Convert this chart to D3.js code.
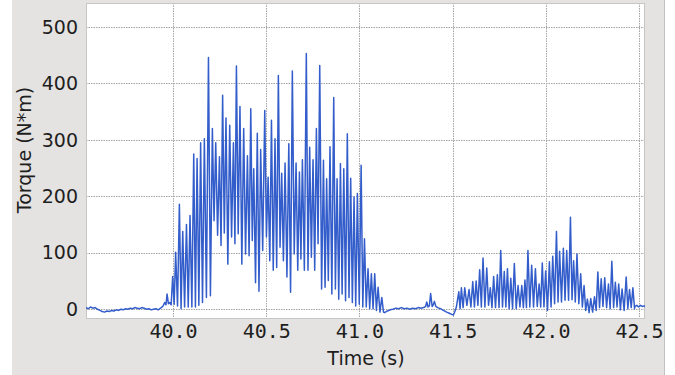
<!DOCTYPE html>
<html><head><meta charset="utf-8">
<script src="https://cdn.jsdelivr.net/npm/d3@7"></script>
<style>body{margin:0;background:#fff} svg{display:block}</style>
</head><body><svg id="c" width="675" height="375"></svg>
<script>
// ---- data ----
const xTicks = [40.0, 40.5, 41.0, 41.5, 42.0, 42.5];
const yTicks = [0, 100, 200, 300, 400, 500];

const preTimes  = [39.533,39.545,39.557,39.570,39.582,39.595,39.608,39.620,39.633,39.645,39.658,39.670,39.683,39.695,39.708,39.720,39.733,39.745,39.758,39.770,39.783,39.795,39.808,39.820,39.833,39.845,39.858,39.870,39.883,39.895,39.908,39.920,39.933,39.945,39.955,39.962,39.968,39.975,39.982,39.990];
const preValues = [3,1,4,2,3,0,-2,-4,-5,-3,-4,-2,-3,-1,-2,0,-1,1,0,2,1,3,2,1,3,2,0,1,-1,0,1,-1,2,5,12,8,27,10,12,8];

const burst1Times = [39.998,40.014,40.034,40.052,40.072,40.091,40.111,40.129,40.148,40.168,40.190,40.211,40.229,40.249,40.266,40.284,40.304,40.324,40.340,40.359,40.379,40.399,40.417,40.433,40.452,40.470,40.492,40.510,40.528,40.547,40.565,40.583,40.601,40.621,40.640,40.660,40.678,40.694,40.715,40.733,40.751,40.769,40.787,40.807,40.824,40.842,40.862,40.880,40.898,40.916,40.935,40.953,40.971,40.989,41.009,41.027,41.046,41.064,41.082,41.100,41.120];
const burst1Peaks = [58,101,186,138,150,166,275,267,295,302,446,320,295,270,379,339,326,295,431,359,320,272,355,249,312,283,352,234,335,302,414,241,259,293,422,259,243,265,453,287,265,320,432,264,231,288,375,231,258,249,311,232,199,205,255,125,72,63,63,39,21];
const burst1Troughs = [9,6,1,4,4,4,4,7,12,21,24,157,131,113,135,80,128,116,134,80,98,95,122,47,32,104,128,86,69,74,110,86,57,30,98,69,89,69,69,92,69,116,36,39,51,27,36,18,27,15,21,12,6,9,4,4,1,1,-2,-5,-5];

const gapTimes  = [41.135,41.150,41.165,41.180,41.195,41.210,41.225,41.240,41.255,41.270,41.285,41.300,41.315,41.330,41.345,41.355,41.361,41.368,41.375,41.382,41.390,41.396,41.402,41.410,41.420,41.435,41.450,41.468,41.482,41.495,41.504,41.512,41.520];
const gapValues = [-6,-3,-1,0,2,1,3,1,2,0,2,1,3,2,3,5,13,4,6,28,5,8,14,5,3,1,-2,-5,-7,-9,-10,-4,4];

const burst2Times = [41.533,41.547,41.565,41.588,41.608,41.626,41.645,41.663,41.683,41.702,41.720,41.740,41.758,41.777,41.794,41.812,41.831,41.851,41.871,41.888,41.904,41.924,41.944,41.964,41.981,41.999,42.019,42.037,42.057,42.074,42.094,42.112,42.132,42.149,42.167,42.187,42.205,42.223,42.241,42.261,42.279,42.297,42.316,42.336,42.354,42.373,42.391,42.409,42.431,42.449,42.467];
const burst2Peaks = [31,38,38,35,49,50,70,91,73,38,58,61,104,67,72,55,81,42,42,52,104,78,72,45,82,68,84,94,138,103,108,104,163,86,98,63,42,18,19,22,66,54,56,45,85,48,45,36,57,35,38];
const burst2Troughs = [1,3,7,4,4,7,4,4,7,3,3,3,4,4,1,1,1,4,3,3,4,4,5,4,4,-2,4,10,13,13,16,16,17,13,10,4,-2,-6,-5,-2,3,5,3,1,3,4,-1,-2,1,3,1];

const postTimes  = [42.478,42.488,42.498,42.508,42.518,42.528,42.536];
const postValues = [5,7,4,7,5,6,4];

// ---- build series ----
function pairs(ts, vs){ return ts.map((t,i)=>[t, vs[i]]); }
function burst(ts, peaks, troughs){
  const out = [];
  ts.forEach((t,i)=>{
    out.push([t, peaks[i]]);
    const next = i < ts.length-1 ? ts[i+1] : t + 0.018;
    out.push([(t+next)/2, troughs[i]]);
  });
  return out;
}
const series = [].concat(
  pairs(preTimes, preValues),
  burst(burst1Times, burst1Peaks, burst1Troughs),
  pairs(gapTimes, gapValues),
  burst(burst2Times, burst2Peaks, burst2Troughs),
  pairs(postTimes, postValues)
);

// ---- layout ----
const L = 86, R = 645, T = 3, B = 319;
const svg = d3.select('#c');
const x = d3.scaleLinear().domain([39.533, 42.532]).range([L, R]);
const y = d3.scaleLinear().domain([-17.2, 542.5]).range([B, T]);

svg.append('rect').attr('x',12).attr('y',0).attr('width',652).attr('height',375).attr('fill','#e4e3e1');
svg.append('line').attr('x1',664.5).attr('x2',664.5).attr('y1',0).attr('y2',375).attr('stroke','#c2c2c2');
svg.append('rect').attr('x',L).attr('y',T).attr('width',R-L).attr('height',B-T).attr('fill','#fff');

// grid
const grid = svg.append('g').attr('stroke','#a4a4a4').attr('stroke-width',1).attr('stroke-dasharray','1.5,1');
grid.selectAll('.gx').data(xTicks).join('line')
  .attr('x1',d=>Math.round(x(d))+0.5).attr('x2',d=>Math.round(x(d))+0.5).attr('y1',T).attr('y2',B);
grid.selectAll('.gy').data(yTicks).join('line')
  .attr('y1',d=>Math.round(y(d))+0.5).attr('y2',d=>Math.round(y(d))+0.5).attr('x1',L).attr('x2',R);

// border
svg.append('rect').attr('x',L+0.5).attr('y',T+0.5).attr('width',R-L-1).attr('height',B-T-1)
  .attr('fill','none').attr('stroke','#c6c6c6');

// line
svg.append('clipPath').attr('id','clip').append('rect').attr('x',L).attr('y',T).attr('width',R-L).attr('height',B-T);
svg.append('path').datum(series)
  .attr('clip-path','url(#clip)')
  .attr('fill','none').attr('stroke','#335dcb').attr('stroke-width',1.5).attr('stroke-linejoin','round')
  .attr('d', d3.line().x(d=>x(d[0])).y(d=>y(d[1])));

// axes
const ya = svg.append('g').attr('transform',`translate(${L},0)`)
  .call(d3.axisLeft(y).tickValues(yTicks).tickSize(0).tickPadding(8));
ya.select('.domain').remove();
ya.selectAll('text').attr('font-family','DejaVu Sans').attr('font-size',19).attr('fill','#1e1e1e');

const xa = svg.append('g').attr('transform',`translate(0,${B})`)
  .call(d3.axisBottom(x).tickValues(xTicks).tickFormat(d3.format('.1f')).tickSize(0).tickPadding(5));
xa.select('.domain').remove();
xa.selectAll('text').attr('font-family','DejaVu Sans Mono').attr('font-size',20).attr('fill','#1e1e1e');

svg.append('text').attr('x',366).attr('y',365).attr('text-anchor','middle')
  .attr('font-family','DejaVu Sans').attr('font-size',19).attr('fill','#1e1e1e').text('Time (s)');
svg.append('text').attr('transform','translate(31,150) rotate(-90)').attr('text-anchor','middle')
  .attr('font-family','DejaVu Sans').attr('font-size',19).attr('fill','#1e1e1e').text('Torque (N*m)');
</script></body></html>
